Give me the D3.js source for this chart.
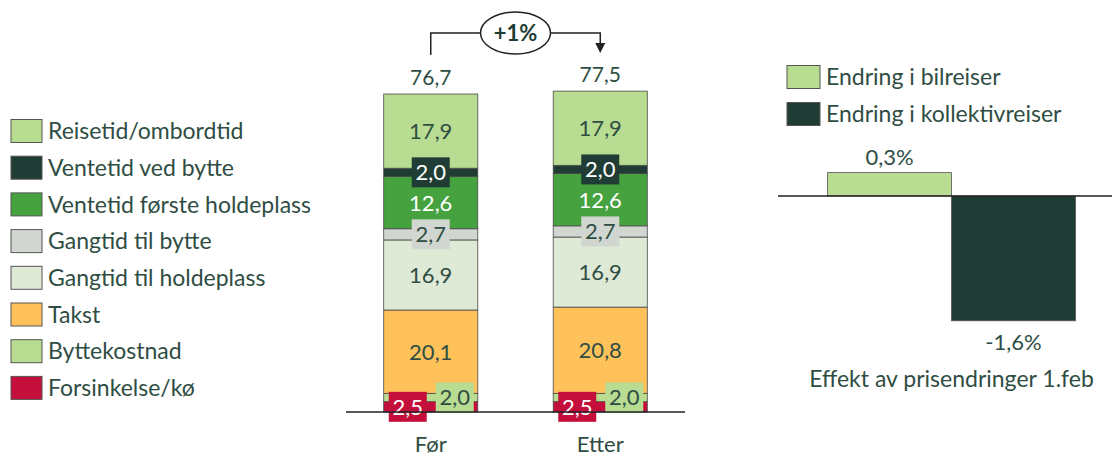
<!DOCTYPE html>
<html>
<head>
<meta charset="utf-8">
<script src="https://cdn.jsdelivr.net/npm/d3@7"></script>
<style>
  body { margin: 0; background: #fff; }
  svg { display: block; font-family: Lato, "Open Sans", sans-serif; }
</style>
</head>
<body>
<svg id="chart" width="1112" height="456"></svg>
<script>
// data
var categories = ["Før", "Etter"];
var components = ["Forsinkelse/kø", "Byttekostnad", "Takst", "Gangtid til holdeplass",
                  "Gangtid til bytte", "Ventetid første holdeplass", "Ventetid ved bytte", "Reisetid/ombordtid"];
var valuesFor = [2.5, 2.0, 20.1, 16.9, 2.7, 12.6, 2.0, 17.9];
var valuesEtter = [2.5, 2.0, 20.8, 16.9, 2.7, 12.6, 2.0, 17.9];
var totals = [76.7, 77.5];
var changeLabel = "+1%";

var effectCategories = ["Endring i bilreiser", "Endring i kollektivreiser"];
var effectValues = [0.3, -1.6];
var effectTitle = "Effekt av prisendringer 1.feb";

var colors = ["#c40f3c", "#b8dc91", "#ffc25a", "#dfead6", "#d2d6d1", "#46a23f", "#1f3d34", "#b8dc91"];
var labelColors = ["#fff", "#2f4d43", "#2f4d43", "#2f4d43", "#2f4d43", "#fff", "#fff", "#2f4d43"];
var effectColors = ["#b8dc91", "#1f3d34"];
var textColor = "#2f4d43";

// norsk format: komma som desimaltegn, vanlig bindestrek
var fmt = function(v) { return d3.format(".1f")(v).replace(".", ",").replace("\u2212", "-"); };

var svg = d3.select("#chart");

// stablede søyler
var x = d3.scaleBand()
    .domain(categories)
    .range([346, 685])
    .paddingInner(0.445)
    .paddingOuter(0.2225);

var y = d3.scaleLinear()
    .domain([0, 80])
    .range([412, 412 - 80 * 4.146]);

var rows = [valuesFor, valuesEtter];
var table = categories.map(function(c, i) {
  var o = { cat: c };
  components.forEach(function(k, j) { o[k] = rows[i][j]; });
  return o;
});
var series = d3.stack().keys(components)(table);

var layer = svg.selectAll("g.layer")
    .data(series)
    .enter().append("g")
    .attr("class", "layer");

layer.selectAll("rect")
    .data(function(d) { return d.map(function(p) { p.idx = d.index; return p; }); })
    .enter().append("rect")
    .attr("x", function(d) { return x(d.data.cat); })
    .attr("y", function(d) { return y(d[1]); })
    .attr("width", x.bandwidth())
    .attr("height", function(d) { return y(d[0]) - y(d[1]); })
    .attr("fill", function(d) { return colors[d.idx]; })
    .attr("stroke", "#4a4a4a")
    .attr("stroke-width", 0.8);

// verdier i søylene
var labels = svg.append("g");
series.forEach(function(s) {
  s.forEach(function(p) {
    var v = p[1] - p[0];
    var cx = x(p.data.cat) + x.bandwidth() / 2;
    var cy = (y(p[0]) + y(p[1])) / 2;
    if (s.index === 0) cx -= 23;
    if (s.index === 1) cx += 24;
    if (v < 3) {
      labels.append("rect")
        .attr("x", cx - 19).attr("y", cy - 15)
        .attr("width", 38).attr("height", 30)
        .attr("fill", colors[s.index]);
    }
    labels.append("text")
      .attr("x", cx).attr("y", cy)
      .attr("dy", "0.36em")
      .attr("text-anchor", "middle")
      .attr("font-size", 22)
      .attr("fill", labelColors[s.index])
      .text(fmt(v));
  });
});

// totaler
svg.selectAll("text.total")
    .data(categories)
    .enter().append("text")
    .attr("class", "total")
    .attr("x", function(d) { return x(d) + x.bandwidth() / 2; })
    .attr("y", function(d, i) { return y(totals[i]) - 9; })
    .attr("text-anchor", "middle")
    .attr("font-size", 21)
    .attr("fill", textColor)
    .text(function(d, i) { return fmt(totals[i]); });

// kategorier
svg.selectAll("text.cat")
    .data(categories)
    .enter().append("text")
    .attr("class", "cat")
    .attr("x", function(d) { return x(d) + x.bandwidth() / 2; })
    .attr("y", 452)
    .attr("text-anchor", "middle")
    .attr("font-size", 22)
    .attr("fill", textColor)
    .text(function(d) { return d; });

svg.append("line")
    .attr("x1", 346).attr("x2", 685)
    .attr("y1", y(0)).attr("y2", y(0))
    .attr("stroke", "#222").attr("stroke-width", 1.5);

// pil med endring
var x1 = x(categories[0]) + x.bandwidth() / 2;
var x2 = x(categories[1]) + x.bandwidth() / 2;
var ay = 33;
svg.append("path")
    .attr("d", "M" + x1 + ",55V" + ay + "H" + x2 + "V45")
    .attr("fill", "none")
    .attr("stroke", "#222")
    .attr("stroke-width", 1.5);
svg.append("path")
    .attr("d", "M" + (x2 - 5) + ",43L" + (x2 + 5) + ",43L" + x2 + ",53Z")
    .attr("fill", "#222");
var ex = (x1 + x2) / 2;
svg.append("ellipse")
    .attr("cx", ex).attr("cy", ay)
    .attr("rx", 35).attr("ry", 21)
    .attr("fill", "#fff")
    .attr("stroke", "#222")
    .attr("stroke-width", 1.5);
svg.append("text")
    .attr("x", ex).attr("y", ay)
    .attr("dy", "0.36em")
    .attr("text-anchor", "middle")
    .attr("font-size", 22)
    .attr("font-weight", "bold")
    .attr("fill", "#1f3d34")
    .text(changeLabel);

// forklaring venstre
var legendOrder = components.slice().reverse();
var leg = svg.selectAll("g.leg")
    .data(legendOrder)
    .enter().append("g")
    .attr("class", "leg")
    .attr("transform", function(d, i) { return "translate(11," + (131 + i * 36.7) + ")"; });
leg.append("rect")
    .attr("x", 0).attr("y", -11.5)
    .attr("width", 31).attr("height", 23)
    .attr("fill", function(d) { return colors[components.indexOf(d)]; })
    .attr("stroke", "#555")
    .attr("stroke-width", 1);
leg.append("text")
    .attr("x", 37).attr("y", 0)
    .attr("dy", "0.36em")
    .attr("font-size", 23)
    .attr("fill", textColor)
    .text(function(d) { return d; });

// effekt-diagram
var ex2 = d3.scaleBand()
    .domain(effectCategories)
    .range([827.5, 1075.5])
    .padding(0);
var ey = d3.scaleLinear()
    .domain([-1.6, 0.3])
    .range([196 + 1.6 * 78, 196 - 0.3 * 78]);

svg.selectAll("rect.eff")
    .data(effectValues)
    .enter().append("rect")
    .attr("class", "eff")
    .attr("x", function(d, i) { return ex2(effectCategories[i]); })
    .attr("y", function(d) { return ey(Math.max(0, d)); })
    .attr("width", ex2.bandwidth())
    .attr("height", function(d) { return Math.abs(ey(d) - ey(0)); })
    .attr("fill", function(d, i) { return effectColors[i]; })
    .attr("stroke", "#555")
    .attr("stroke-width", 0.8);

svg.append("line")
    .attr("x1", 778).attr("x2", 1112)
    .attr("y1", ey(0)).attr("y2", ey(0))
    .attr("stroke", "#222").attr("stroke-width", 1.5);

svg.selectAll("text.eff")
    .data(effectValues)
    .enter().append("text")
    .attr("class", "eff")
    .attr("x", function(d, i) { return ex2(effectCategories[i]) + ex2.bandwidth() / 2; })
    .attr("y", function(d) { return d >= 0 ? ey(d) - 8 : ey(d) + 29; })
    .attr("text-anchor", "middle")
    .attr("font-size", 22)
    .attr("fill", textColor)
    .text(function(d) { return fmt(d) + "%"; });

svg.append("text")
    .attr("x", 951.5).attr("y", 387)
    .attr("text-anchor", "middle")
    .attr("font-size", 23)
    .attr("fill", textColor)
    .text(effectTitle);

var eleg = svg.selectAll("g.eleg")
    .data(effectCategories)
    .enter().append("g")
    .attr("class", "eleg")
    .attr("transform", function(d, i) { return "translate(787," + (77 + i * 37) + ")"; });
eleg.append("rect")
    .attr("x", 0).attr("y", -11.5)
    .attr("width", 33).attr("height", 23)
    .attr("fill", function(d, i) { return effectColors[i]; })
    .attr("stroke", "#555")
    .attr("stroke-width", 1);
eleg.append("text")
    .attr("x", 39).attr("y", 0)
    .attr("dy", "0.36em")
    .attr("font-size", 23)
    .attr("fill", textColor)
    .text(function(d) { return d; });
</script>
</body>
</html>
